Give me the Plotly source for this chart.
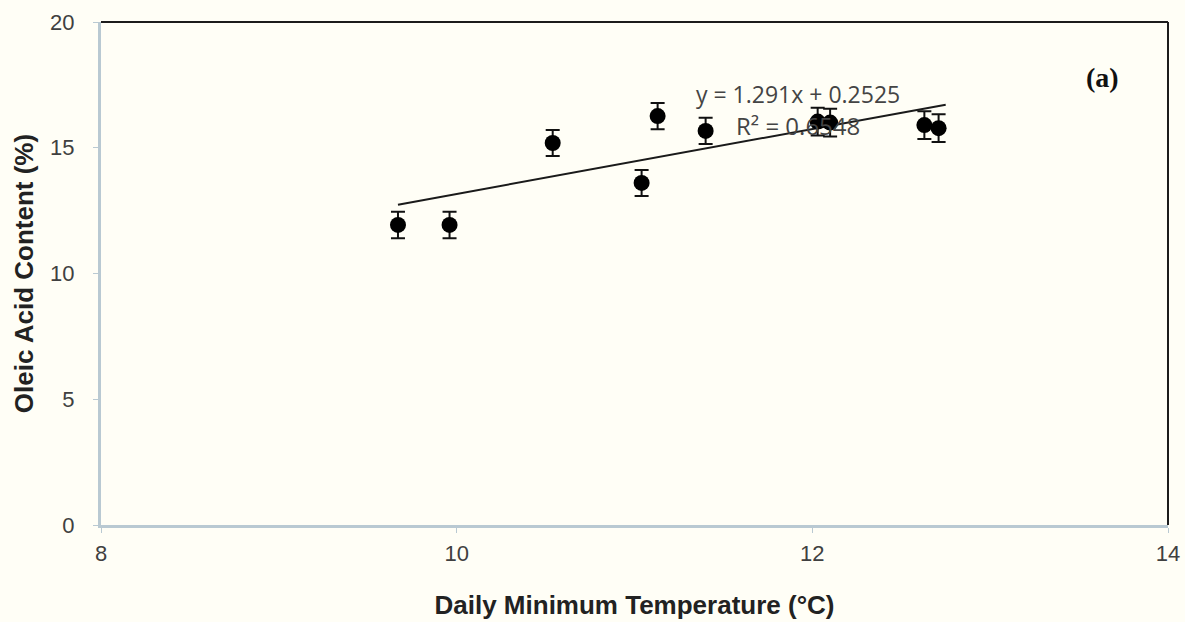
import plotly.graph_objects as go

# Data
temp_min = [9.67, 9.96, 10.54, 11.04, 11.13, 11.40, 12.03, 12.10, 12.63, 12.71]
oleic = [11.93, 11.93, 15.19, 13.60, 16.26, 15.67, 16.04, 16.00, 15.90, 15.78]
oleic_err = [0.53, 0.53, 0.52, 0.52, 0.52, 0.52, 0.55, 0.55, 0.55, 0.55]

# Linear trendline y = slope * x + intercept
slope = 1.291
intercept = 0.2525
trend_x = [9.67, 12.75]
trend_y = [slope * v + intercept for v in trend_x]

x_ticks = [8, 10, 12, 14]
y_ticks = [0, 5, 10, 15, 20]

bg = "#fffef6"
light_axis = "#b9c9d2"

fig = go.Figure()
fig.add_trace(go.Scatter(
    x=trend_x, y=trend_y, mode="lines",
    line=dict(color="#1a1a1a", width=2), showlegend=False, hoverinfo="skip"))
fig.add_trace(go.Scatter(
    x=temp_min, y=oleic, mode="markers",
    marker=dict(color="#000000", size=16),
    error_y=dict(type="data", array=oleic_err, visible=True,
                 color="#111111", thickness=2, width=7),
    showlegend=False))

fig.update_layout(
    width=1185, height=622,
    margin=dict(l=101, r=17, t=22, b=97, autoexpand=False),
    paper_bgcolor=bg, plot_bgcolor=bg,
    font=dict(family="Liberation Sans, Arial, sans-serif", color="#404040", size=20),
    xaxis=dict(range=[8, 14], tickvals=x_ticks, showgrid=False, zeroline=False,
               showline=True, linecolor=light_axis, linewidth=3,
               ticks="outside", ticklen=5, tickcolor=light_axis, tickwidth=1,
               ticklabelstandoff=2,
               tickfont=dict(size=22, color="#404040"),
               title=dict(text="<b>Daily Minimum Temperature (°C)</b>",
                          font=dict(size=26, color="#222222"), standoff=31)),
    yaxis=dict(range=[0, 20], tickvals=y_ticks, showgrid=False, zeroline=False,
               showline=True, linecolor=light_axis, linewidth=3,
               ticks="outside", ticklen=5, tickcolor=light_axis, tickwidth=1,
               ticklabelstandoff=14,
               tickfont=dict(size=22, color="#404040"),
               title=dict(text="<b>Oleic Acid Content (%)</b>",
                          font=dict(size=26, color="#222222"), standoff=10)),
    shapes=[
        dict(type="line", xref="paper", yref="paper", x0=0, x1=1, y0=1, y1=1,
             line=dict(color="#1c1c1c", width=2)),
        dict(type="line", xref="paper", yref="paper", x0=1, x1=1, y0=0, y1=1,
             line=dict(color="#1c1c1c", width=2)),
    ],
    annotations=[
        dict(x=11.92, y=17.15, xref="x", yref="y", text="y = 1.291x + 0.2525",
             showarrow=False, font=dict(family="Open Sans, sans-serif", size=23, color="#444444")),
        dict(x=11.92, y=15.9, xref="x", yref="y", text="R² = 0.6548",
             showarrow=False, font=dict(family="Open Sans, sans-serif", size=24, color="#444444")),
        dict(x=13.63, y=17.8, xref="x", yref="y", text="<b>(a)</b>",
             showarrow=False, font=dict(family="Liberation Serif, Times New Roman, serif", size=28, color="#111111")),
    ],
)

fig.write_html("out.html")
